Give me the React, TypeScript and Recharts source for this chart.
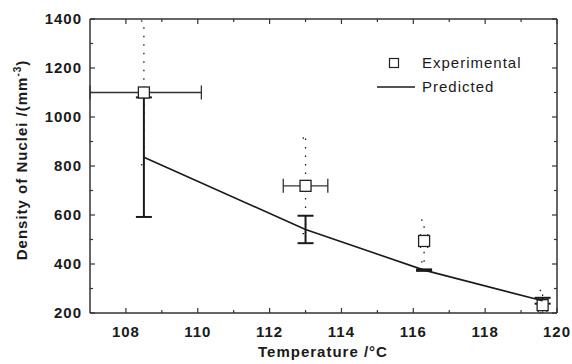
import React from 'react';
import { ComposedChart, Scatter, XAxis, YAxis, ErrorBar, Label } from 'recharts';

// temperatures of the four runs
const temps = [108.5, 113.0, 116.3, 119.6];
// [below, above] spread in temperature; the first one runs off the left edge
const tempErr = [[1.5, 1.6], [0.62, 0.62], [0.1, 0.1], [0.12, 0.12]];
// measured nuclei density
const measured = [1100, 719, 494, 232];
// [below, above]; the last one runs off the bottom edge
const measuredErr = [[295, 292], [195, 195], [85, 85], [32, 60]];
// model prediction
const predicted = [836, 541, 375, 250];
const predictedErr = [244, 56, 3, 12];

const xTicks = [108, 109, 110, 111, 112, 113, 114, 115, 116, 117, 118, 119, 120];
const yTicks = [200, 300, 400, 500, 600, 700, 800, 900, 1000, 1100, 1200, 1300, 1400];

const expRows = temps.map((t, i) => ({ x: t, y: measured[i], ex: tempErr[i], ey: measuredErr[i] }));
const predRows = temps.map((t, i) => ({ x: t, y: predicted[i], ey: predictedErr[i] }));

const FONT = '"Liberation Sans", Arial, Helvetica, sans-serif';
const INK = '#1a1a1a';
const AXIS = '#333';

const XTick = (props: any) => {
  const { x, y, payload, top } = props;
  const v = payload.value;
  const major = v % 2 === 0;
  const len = major ? 5 : 3;
  return (
    <g>
      <line x1={x} x2={x} y1={y} y2={top ? y + len : y - len} stroke={AXIS} strokeWidth={1.2} />
      {!top && major && (
        <text x={x} y={y + 24} textAnchor="middle" fontFamily={FONT} fontWeight="bold" fontSize={15} letterSpacing={1} fill={INK}>
          {v}
        </text>
      )}
    </g>
  );
};

const YTick = (props: any) => {
  const { x, y, payload, right } = props;
  const v = payload.value;
  const major = v % 200 === 0;
  const len = major ? 5 : 3;
  return (
    <g>
      <line x1={x} x2={right ? x - len : x + len} y1={y} y2={y} stroke={AXIS} strokeWidth={1.2} />
      {!right && major && (
        <text x={x - 8} y={y + 5} textAnchor="end" fontFamily={FONT} fontWeight="bold" fontSize={15} letterSpacing={1} fill={INK}>
          {v}
        </text>
      )}
    </g>
  );
};

const Square = (props: any) => {
  const { cx, cy } = props;
  return <rect x={cx - 5.5} y={cy - 5.5} width={11} height={11} fill="#fff" stroke="#222" strokeWidth={1.3} />;
};

const Nothing = () => <g />;

export default function App() {
  return (
    <div style={{ position: 'absolute', left: 0, top: 0, width: 572, height: 364, background: '#fff' }}>
      <ComposedChart width={572} height={364} margin={{ top: 18, right: 14, bottom: 0, left: 0 }}>
        <XAxis
          xAxisId="b"
          type="number"
          dataKey="x"
          domain={[107, 120]}
          allowDataOverflow
          ticks={xTicks}
          interval={0}
          height={51}
          tickSize={0}
          tickMargin={0}
          tick={<XTick />}
          axisLine={{ stroke: AXIS, strokeWidth: 1.5 }}
        >
          <Label
            content={() => (
              <text x={323} y={357} textAnchor="middle" fontFamily={FONT} fontWeight="bold" fontSize={15} letterSpacing={1} fill={INK}>
                Temperature /°C
              </text>
            )}
          />
        </XAxis>
        <XAxis
          xAxisId="t"
          orientation="top"
          type="number"
          dataKey="x"
          domain={[107, 120]}
          allowDataOverflow
          ticks={xTicks}
          interval={0}
          height={1}
          tickSize={0}
          tickMargin={0}
          tick={<XTick top />}
          axisLine={{ stroke: AXIS, strokeWidth: 1.5 }}
        />
        <YAxis
          yAxisId="l"
          type="number"
          dataKey="y"
          domain={[200, 1400]}
          allowDataOverflow
          ticks={yTicks}
          interval={0}
          width={90}
          tickSize={0}
          tickMargin={0}
          tick={<YTick />}
          axisLine={{ stroke: AXIS, strokeWidth: 1.5 }}
        >
          <Label
            content={() => (
              <text
                x={27}
                y={160}
                transform="rotate(-90 27 160)"
                textAnchor="middle"
                fontFamily={FONT}
                fontWeight="bold"
                fontSize={15}
                letterSpacing={1}
                fill={INK}
              >
                <tspan>Density of Nuclei /(mm</tspan>
                <tspan dy={-6} fontSize={10}>-3</tspan>
                <tspan dy={6}>)</tspan>
              </text>
            )}
          />
        </YAxis>
        <YAxis
          yAxisId="r"
          orientation="right"
          type="number"
          dataKey="y"
          domain={[200, 1400]}
          allowDataOverflow
          ticks={yTicks}
          interval={0}
          width={1}
          tickSize={0}
          tickMargin={0}
          tick={<YTick right />}
          axisLine={{ stroke: AXIS, strokeWidth: 1.5 }}
        />
        {/* invisible series so the top and right frame axes get drawn */}
        <Scatter data={expRows} xAxisId="t" yAxisId="r" shape={<Nothing />} isAnimationActive={false} />
        <Scatter
          name="Experimental"
          data={expRows}
          xAxisId="b"
          yAxisId="l"
          shape={<Square />}
          isAnimationActive={false}
        >
          <ErrorBar dataKey="ey" direction="y" width={3} stroke={INK} strokeWidth={1.3} strokeDasharray="1.5 7" />
          <ErrorBar dataKey="ex" direction="x" width={7} stroke={AXIS} strokeWidth={1.3} />
        </Scatter>
        <Scatter
          name="Predicted"
          data={predRows}
          xAxisId="b"
          yAxisId="l"
          line={{ stroke: INK, strokeWidth: 1.6 }}
          shape={<Nothing />}
          isAnimationActive={false}
        >
          <ErrorBar dataKey="ey" direction="y" width={8} stroke={INK} strokeWidth={2} />
        </Scatter>
      </ComposedChart>
      <svg width={572} height={364} style={{ position: 'absolute', left: 0, top: 0, pointerEvents: 'none' }}>
        <rect x={389.5} y={58.5} width={9} height={9} fill="#fff" stroke="#222" strokeWidth={1.2} />
        <text x={422} y={68} fontFamily={FONT} fontSize={15} letterSpacing={1} fill={INK}>
          Experimental
        </text>
        <line x1={377} x2={415} y1={87} y2={87} stroke={INK} strokeWidth={1.6} />
        <text x={422} y={92} fontFamily={FONT} fontSize={15} letterSpacing={1} fill={INK}>
          Predicted
        </text>
      </svg>
    </div>
  );
}
